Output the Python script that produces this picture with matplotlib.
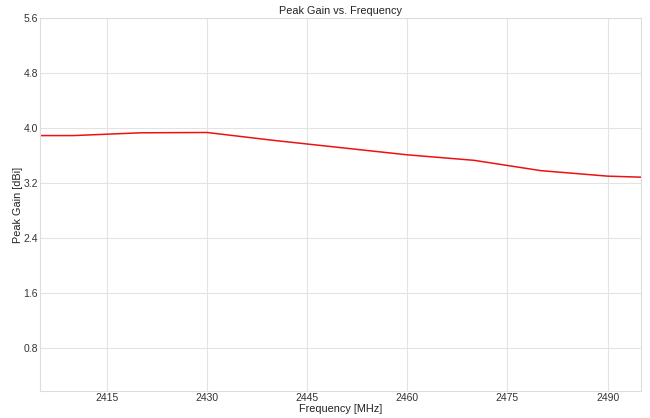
import matplotlib
matplotlib.use("Agg")
import matplotlib.pyplot as plt
import seaborn as sns
import numpy as np

# peak gain readings
freq_mhz = [2405, 2410, 2420, 2430, 2440, 2450, 2460, 2470, 2480, 2490, 2495]
gain_dbi = [3.89, 3.89, 3.93, 3.935, 3.82, 3.715, 3.61, 3.53, 3.38, 3.30, 3.285]
x_ticks = [2415, 2430, 2445, 2460, 2475, 2490]
y_ticks = [0.8, 1.6, 2.4, 3.2, 4.0, 4.8, 5.6]

sns.set_style("whitegrid")
plt.rcParams['font.family'] = ['Liberation Sans', 'DejaVu Sans']

fig = plt.figure(figsize=(6.5, 4.18), dpi=100)
ax = fig.add_axes([40 / 650, 1 - 391 / 418, 601 / 650, 373 / 418])

ax.plot(freq_mhz, gain_dbi, color="#ee1111", linewidth=1.1)

ax.set_xlim(2405, 2495)
ax.set_ylim(0.175, 5.6)
ax.set_xticks(x_ticks)
ax.set_yticks(y_ticks)
ax.set_yticklabels([f"{v:.1f}" for v in y_ticks])
ax.tick_params(axis="both", labelsize=7.5, colors="#333333", length=0, pad=1.5)
ax.grid(True, color="#e3e3e3", linewidth=0.8)
for s in ax.spines.values():
    s.set_color("#dddddd")
    s.set_linewidth(0.8)

ax.set_title("Peak Gain vs. Frequency", fontsize=7.8, color="#222222", pad=3)
ax.set_xlabel("Frequency [MHz]", fontsize=7.8, color="#222222", labelpad=1)
ax.set_ylabel("Peak Gain [dBi]", fontsize=7.8, color="#222222", labelpad=0)

fig.savefig("out.png", dpi=100)
